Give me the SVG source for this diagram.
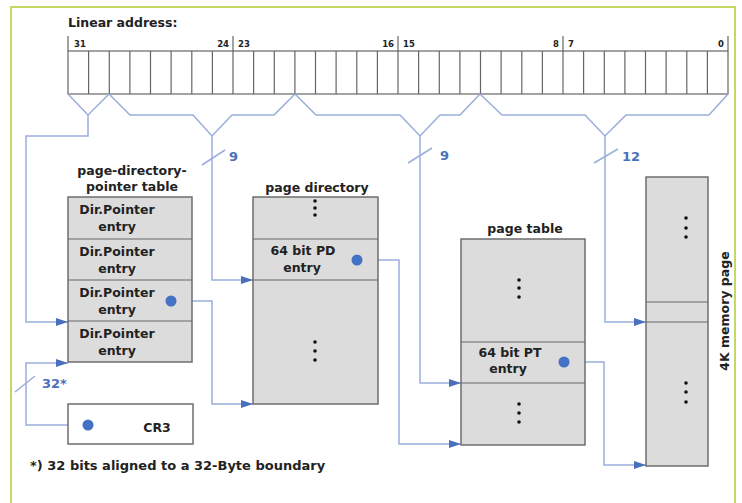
<svg xmlns="http://www.w3.org/2000/svg" width="742" height="503" viewBox="0 0 742 503">
<style>
text{font-family:"DejaVu Sans","Liberation Sans",sans-serif;font-weight:bold;fill:#222;}
.t{font-size:12.5px;}
.fn{font-size:13px;}
.bn{font-size:8.5px;}
.lb{font-size:13px;fill:#4a6fbd;}
.box{fill:#dcdcdc;stroke:#6e6e6e;stroke-width:1.5;}
.cell{fill:#fff;stroke:#666;stroke-width:1.2;}
.sep{stroke:#666;stroke-width:1.2;fill:none;}
.c{fill:none;stroke:#9aaedb;stroke-width:1.5;}
.ca{fill:none;stroke:#9aaedb;stroke-width:1.5;marker-end:url(#ah);}
.dot{fill:#4472c4;}
.ed{fill:#111;}
</style>
<defs>
<marker id="ah" markerUnits="userSpaceOnUse" markerWidth="12" markerHeight="8" refX="12" refY="4" orient="auto">
<path d="M0,0 L12,4 L0,8 z" fill="#4a6fbd"/>
</marker>
</defs>
<rect width="742" height="503" fill="#fff"/>
<path d="M11,503 L11,7 L735,7 L735,503" fill="none" stroke="#c3d964" stroke-width="2"/>

<g id="linear-address">
<text class="t" x="68" y="27">Linear address:</text>
<rect x="68" y="51" width="660" height="43" class="cell"/>
<path class="sep" d="M88.6,51V94M109.3,51V94M129.9,51V94M150.5,51V94M171.1,51V94M191.8,51V94M212.4,51V94M233,51V94M253.6,51V94M274.3,51V94M294.9,51V94M315.5,51V94M336.1,51V94M356.8,51V94M377.4,51V94M398,51V94M418.6,51V94M439.3,51V94M459.9,51V94M480.5,51V94M501.1,51V94M521.8,51V94M542.4,51V94M563,51V94M583.6,51V94M604.3,51V94M624.9,51V94M645.5,51V94M666.1,51V94M686.8,51V94M707.4,51V94"/>
<path class="sep" d="M68,36V51M233,36V51M398,36V51M563,36V51M728,36V51"/>
<text class="bn" x="74" y="47">31</text>
<text class="bn" x="229" y="47" text-anchor="end">24</text>
<text class="bn" x="238" y="47">23</text>
<text class="bn" x="394" y="47" text-anchor="end">16</text>
<text class="bn" x="403" y="47">15</text>
<text class="bn" x="559" y="47" text-anchor="end">8</text>
<text class="bn" x="568" y="47">7</text>
<text class="bn" x="724" y="47" text-anchor="end">0</text>
</g>

<g id="connectors">
<path class="c" d="M68,94 L88,115 L109,94"/>
<path class="ca" d="M88,115 V136 H26 V322 H68"/>
<path class="c" d="M109,94 L130,115 H193 L212,136 L232,115 H274 L295,94"/>
<path class="ca" d="M212,136 V280 H253"/>
<path class="c" d="M295,94 L316,115 H400 L420,136 L440,115 H460 L480,94"/>
<path class="ca" d="M420,136 V383 H461"/>
<path class="c" d="M480,94 L502,115 H585 L605,136 L626,115 H709 L728,94"/>
<path class="ca" d="M605,136 V322 H646"/>
<path class="ca" d="M171,301 H212 V404 H253"/>
<path class="ca" d="M357,260 H399 V444 H461"/>
<path class="ca" d="M564,362 H604 V465 H646"/>
<path class="ca" d="M88,425 H26 V363 H68"/>
<path class="c" d="M202,165 L225,150 M408,163 L432,148 M594,163 L618,149 M15,392 L35,376"/>
<text class="lb" x="229" y="161">9</text>
<text class="lb" x="440" y="160">9</text>
<text class="lb" x="622" y="161">12</text>
<text class="lb" x="42" y="388">32*</text>
</g>

<g id="pdpt">
<text class="t" x="132" y="175" text-anchor="middle">page-directory-</text>
<text class="t" x="132" y="191" text-anchor="middle">pointer table</text>
<rect class="box" x="68" y="197" width="124" height="165"/>
<path class="sep" d="M68,239H192M68,280H192M68,321H192"/>
<text class="t" x="117" y="214" text-anchor="middle">Dir.Pointer</text>
<text class="t" x="117" y="231" text-anchor="middle">entry</text>
<text class="t" x="117" y="256" text-anchor="middle">Dir.Pointer</text>
<text class="t" x="117" y="273" text-anchor="middle">entry</text>
<text class="t" x="117" y="297" text-anchor="middle">Dir.Pointer</text>
<text class="t" x="117" y="314" text-anchor="middle">entry</text>
<text class="t" x="117" y="338" text-anchor="middle">Dir.Pointer</text>
<text class="t" x="117" y="355" text-anchor="middle">entry</text>
<circle class="dot" cx="171" cy="301" r="5.5"/>
</g>

<g id="page-directory">
<text class="t" x="317" y="192" text-anchor="middle">page directory</text>
<rect class="box" x="253" y="197" width="125" height="207"/>
<path class="sep" d="M253,239H378M253,280H378"/>
<circle class="ed" cx="315" cy="201" r="1.8"/><circle class="ed" cx="315" cy="208" r="1.8"/><circle class="ed" cx="315" cy="215" r="1.8"/>
<text class="t" x="303" y="255" text-anchor="middle">64 bit PD</text>
<text class="t" x="302" y="272" text-anchor="middle">entry</text>
<circle class="dot" cx="357" cy="260" r="5.5"/>
<circle class="ed" cx="315" cy="342" r="1.8"/><circle class="ed" cx="315" cy="351" r="1.8"/><circle class="ed" cx="315" cy="360" r="1.8"/>
</g>

<g id="page-table">
<text class="t" x="525" y="233" text-anchor="middle">page table</text>
<rect class="box" x="461" y="239" width="124" height="206"/>
<path class="sep" d="M461,342H585M461,383H585"/>
<circle class="ed" cx="519" cy="280" r="1.8"/><circle class="ed" cx="519" cy="288" r="1.8"/><circle class="ed" cx="519" cy="297" r="1.8"/>
<text class="t" x="510" y="357" text-anchor="middle">64 bit PT</text>
<text class="t" x="508" y="373" text-anchor="middle">entry</text>
<circle class="dot" cx="564" cy="362" r="5.5"/>
<circle class="ed" cx="519" cy="404" r="1.8"/><circle class="ed" cx="519" cy="413" r="1.8"/><circle class="ed" cx="519" cy="422" r="1.8"/>
</g>

<g id="memory-page">
<rect class="box" x="646" y="177" width="62" height="289"/>
<path class="sep" d="M646,302H708M646,322H708"/>
<circle class="ed" cx="686" cy="218" r="1.8"/><circle class="ed" cx="686" cy="228" r="1.8"/><circle class="ed" cx="686" cy="237" r="1.8"/>
<circle class="ed" cx="686" cy="383" r="1.8"/><circle class="ed" cx="686" cy="392" r="1.8"/><circle class="ed" cx="686" cy="402" r="1.8"/>
<text class="t" x="729" y="311" text-anchor="middle" transform="rotate(-90 729 311)">4K memory page</text>
</g>

<g id="cr3">
<rect x="68" y="404" width="125" height="40" fill="#fff" stroke="#6e6e6e" stroke-width="1.5"/>
<text class="t" x="157" y="432" text-anchor="middle">CR3</text>
<circle class="dot" cx="88" cy="425" r="5.5"/>
</g>

<text class="fn" x="30" y="470">*) 32 bits aligned to a 32-Byte boundary</text>
</svg>
